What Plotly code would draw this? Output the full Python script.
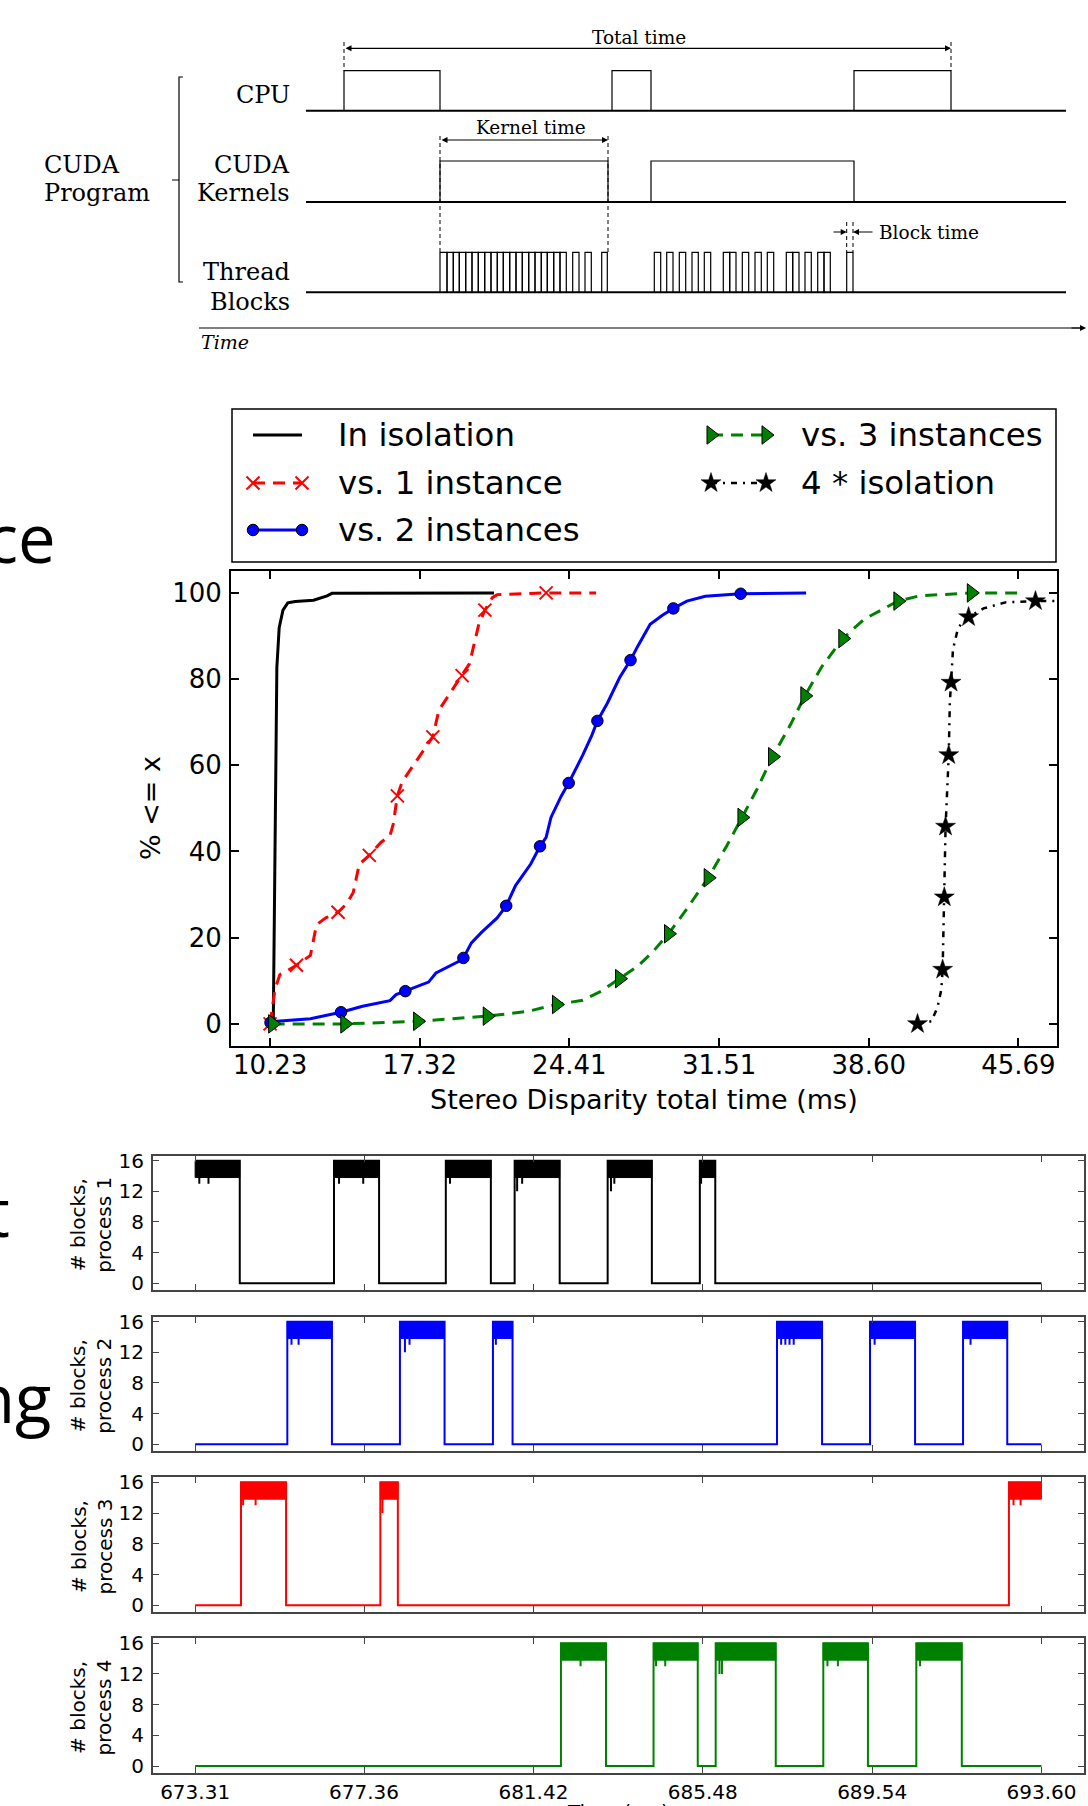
import plotly.graph_objects as go

W, H = 1088, 1806

# ======================= CDF panel data =======================
cdf_xticks = [10.23, 17.32, 24.41, 31.51, 38.60, 45.69]
cdf_xtick_text = ["10.23", "17.32", "24.41", "31.51", "38.60", "45.69"]
cdf_yticks = [0, 20, 40, 60, 80, 100]

iso_x = [10.38, 10.40, 10.46, 10.55, 10.66, 10.84, 11.07, 11.42, 12.29, 12.58, 12.93, 13.16, 20.84]
iso_y = [0, 12.2, 41.1, 82.7, 91.9, 96.0, 97.7, 98.0, 98.3, 98.7, 99.3, 99.9, 100]

vs1_x = [10.23, 10.46, 10.69, 11.48, 12.14, 12.43, 12.87, 13.45, 13.88, 14.17, 14.46, 14.93, 15.48,
         15.91, 16.06, 16.26, 16.49, 17.07, 17.65, 17.94, 18.23, 18.67, 19.33, 19.68, 20.12, 20.41,
         20.76, 20.99, 23.31, 25.68]
vs1_y = [0, 8.0, 11.4, 13.6, 15.9, 23.0, 24.6, 25.9, 28.0, 30.5, 37.1, 39.1, 42.1, 43.7, 46.2, 52.9,
         56.2, 60.3, 64.5, 66.6, 72.8, 76.1, 80.8, 83.6, 92.7, 96.0, 98.9, 99.6, 100, 100]
vs1_marks = [0, 3, 7, 11, 15, 19, 22, 25, 28]

vs2_x = [10.25, 10.55, 12.14, 12.87, 13.59, 14.61, 15.91, 16.20, 16.64, 17.74, 18.09, 19.25, 19.39,
         19.77, 20.26, 20.99, 21.42, 21.86, 22.58, 23.02, 23.31, 23.54, 24.03, 24.38, 25.05, 25.48,
         25.74, 26.21, 26.79, 27.31, 27.66, 28.24, 28.82, 29.34, 29.98, 30.85, 32.53, 35.63]
vs2_y = [0.3, 0.6, 1.2, 2.0, 2.7, 4.1, 5.4, 6.8, 7.6, 9.7, 11.8, 14.7, 15.3, 18.8, 21.3, 24.6, 27.4,
         32.1, 37.1, 41.2, 43.3, 47.9, 52.9, 55.9, 62.4, 67.0, 70.3, 74.4, 80.3, 84.4, 87.7, 92.7,
         94.8, 96.4, 98.1, 99.2, 99.8, 100]
vs2_marks = [0, 4, 8, 12, 16, 19, 23, 26, 29, 33, 36]

vs3_x = [10.35, 13.77, 17.22, 20.52, 22.44, 23.80, 25.05, 25.92, 26.79, 27.66, 28.38, 29.11, 29.98,
         30.99, 31.86, 32.59, 33.31, 34.04, 34.90, 35.57, 36.35, 37.37, 38.38, 39.98, 40.99, 43.46,
         45.63]
vs3_y = [0, 0, 0.6, 1.8, 2.9, 4.5, 5.5, 7.6, 10.5, 13.4, 16.8, 20.9, 26.7, 33.9, 41.2, 47.9, 54.5,
         62.0, 69.5, 76.1, 82.7, 89.4, 93.9, 98.1, 99.3, 100, 100]
vs3_marks = [0, 1, 2, 3, 5, 8, 11, 13, 15, 17, 19, 21, 23, 25]

x4_x = [40.91, 41.57, 41.86, 42.04, 42.10, 42.15, 42.18, 42.24, 42.39, 42.44, 42.50, 42.59, 42.81,
        42.96, 43.33, 44.04, 45.07, 46.50, 47.52]
x4_y = [0, 0.6, 3.9, 8.0, 12.6, 24.6, 29.4, 45.8, 62.4, 74.4, 79.2, 86.9, 91.4, 92.7, 94.4, 96.4,
        97.8, 98.1, 98.1]
x4_marks = [0, 4, 6, 7, 8, 10, 14, 17]

legend_labels = ["In isolation", "vs. 1 instance", "vs. 2 instances", "vs. 3 instances", "4 * isolation"]

# ======================= block-count panels data =======================
bt_ticks = [673.31, 677.36, 681.42, 685.48, 689.54, 693.60]
bt_tick_text = ["673.31", "677.36", "681.42", "685.48", "689.54", "693.60"]
bt_yticks = [0, 4, 8, 12, 16]
t_start, t_end = 673.31, 693.60
full_level, band_low = 16, 13.8

p1_on = [673.31, 676.64, 679.32, 680.97, 683.20, 685.41]
p1_off = [674.38, 677.72, 680.40, 682.05, 684.26, 685.78]
p1_dip_t = [673.41, 673.63, 676.76, 677.34, 679.42, 681.03, 681.15, 683.28, 683.36, 685.44]
p1_dip_v = [13, 13, 13, 13, 13, 12, 13, 12, 13, 13]

p2_on = [675.52, 678.22, 680.45, 687.26, 689.49, 691.72]
p2_off = [676.59, 679.29, 680.92, 688.34, 690.57, 692.78]
p2_dip_t = [675.62, 675.79, 678.34, 678.45, 680.52, 687.36, 687.46, 687.56, 687.66, 689.60, 691.90]
p2_dip_v = [13, 13, 12, 13, 13, 13, 13, 13, 13, 13, 13]

p3_on = [674.41, 677.75, 692.82]
p3_off = [675.49, 678.17, 693.60]
p3_dip_t = [674.46, 674.76, 677.80, 692.93, 693.10]
p3_dip_v = [13, 13, 12, 13, 13]

p4_on = [682.08, 684.30, 685.79, 688.37, 690.60]
p4_off = [683.16, 685.36, 687.23, 689.44, 691.69]
p4_dip_t = [682.55, 684.36, 684.58, 685.88, 685.94, 688.47, 688.72, 690.69]
p4_dip_v = [13, 13, 13, 12, 12, 13, 13, 13]

# ======================= schematic timing diagram (diagram units) =======================
cpu_busy = [(344, 440), (612, 651), (854, 951)]
kernel_busy = [(440, 608), (651, 854)]
block_busy = [(440.0, 447.0), (447.0, 453.3), (453.3, 459.3), (459.3, 465.7), (465.7, 472.0),
              (472.0, 478.3), (478.3, 484.7), (484.7, 491.0), (491.0, 497.3), (497.3, 503.3),
              (503.3, 509.7), (509.7, 516.0), (516.0, 522.3), (522.3, 528.7), (528.7, 535.0),
              (535.0, 541.3), (541.3, 547.3), (547.3, 553.7), (553.7, 560.0), (560.0, 566.3),
              (572.7, 579.0), (585.0, 591.3), (601.7, 607.3),
              (654.3, 660.7), (666.7, 673.0), (679.3, 685.7), (692.0, 698.3), (704.3, 710.7),
              (723.3, 729.7), (729.7, 736.0), (742.3, 748.7), (755.0, 761.3), (767.3, 773.7),
              (786.3, 792.7), (792.7, 799.0), (805.0, 811.3), (817.7, 824.0), (824.0, 830.3),
              (846.7, 853.0)]
lane_base = {"cpu": 110.7, "kern": 202.0, "blk": 292.3}
lane_top = {"cpu": 70.7, "kern": 161.0, "blk": 252.3}
lane_span = (306, 1066)

# ======================= build figure =======================
fig = go.Figure()
CAN = dict(xaxis="x6", yaxis="y6")
SERIF = "DejaVu Serif"
SANS = "DejaVu Sans"

def boxes_trace(intervals, base, top, width=1.2):
    xs, ys = [], []
    for a, b in intervals:
        xs += [a, a, b, b, None]
        ys += [base, top, top, base, None]
    return go.Scatter(x=xs, y=ys, mode="lines", line=dict(color="black", width=width),
                      hoverinfo="skip", showlegend=False, **CAN)

for lane, ints in (("cpu", cpu_busy), ("kern", kernel_busy), ("blk", block_busy)):
    fig.add_trace(boxes_trace(ints, lane_base[lane], lane_top[lane]))
    fig.add_trace(go.Scatter(x=list(lane_span), y=[lane_base[lane]] * 2, mode="lines",
                             line=dict(color="black", width=2), showlegend=False, **CAN))

def vdash(x, y0, y1):
    fig.add_trace(go.Scatter(x=[x, x], y=[y0, y1], mode="lines",
                             line=dict(color="black", width=1, dash="4px,3px"),
                             showlegend=False, **CAN))

vdash(cpu_busy[0][0], 42, lane_top["cpu"])
vdash(cpu_busy[-1][1], 42, lane_top["cpu"])
vdash(kernel_busy[0][0], 136, lane_top["blk"])
vdash(kernel_busy[0][1], 136, lane_top["blk"])
vdash(block_busy[-1][0], 222, lane_top["blk"])
vdash(block_busy[-1][1], 222, lane_top["blk"])

# time axis line
fig.add_trace(go.Scatter(x=[199, 1084], y=[328, 328], mode="lines",
                         line=dict(color="black", width=1.2), showlegend=False, **CAN))

# ---------------- CDF traces ----------------
def cdf(xs, ys, marks, color, width, dash, symbol, msize, mline_color, mline_w, mfill):
    fig.add_trace(go.Scatter(x=xs, y=ys, mode="lines", line=dict(color=color, width=width, dash=dash),
                             showlegend=False, xaxis="x", yaxis="y"))
    if marks:
        fig.add_trace(go.Scatter(x=[xs[i] for i in marks], y=[ys[i] for i in marks], mode="markers",
                                 marker=dict(symbol=symbol, size=msize, color=mfill,
                                             line=dict(color=mline_color, width=mline_w)),
                                 showlegend=False, xaxis="x", yaxis="y", cliponaxis=False))

RED, BLUE, GREEN = "#ff0000", "#0000ff", "#008000"
STY = {
    "iso": dict(color="black", width=3, dash="solid", symbol=None, msize=0, mline_color=None, mline_w=0, mfill=None),
    "vs1": dict(color=RED, width=3, dash="12px,8px", symbol="x-thin", msize=13, mline_color=RED, mline_w=2, mfill=RED),
    "vs2": dict(color=BLUE, width=3, dash="solid", symbol="circle", msize=11.5, mline_color="black", mline_w=1, mfill=BLUE),
    "vs3": dict(color=GREEN, width=3, dash="12px,8px", symbol="triangle-right", msize=16, mline_color="black", mline_w=1, mfill=GREEN),
    "x4": dict(color="black", width=2.5, dash="6px,6px,2px,6px", symbol="star", msize=15, mline_color="black", mline_w=0.5, mfill="black"),
}
cdf(iso_x, iso_y, [], **STY["iso"])
cdf(vs1_x, vs1_y, vs1_marks, **STY["vs1"])
cdf(vs2_x, vs2_y, vs2_marks, **STY["vs2"])
cdf(vs3_x, vs3_y, vs3_marks, **STY["vs3"])
cdf(x4_x, x4_y, x4_marks, **STY["x4"])

# ---------------- legend (drawn on canvas) ----------------
leg_rows = [435, 483, 530]
leg_cols = [(253, 302, 336), (711, 766, 799)]
leg_slots = [(0, 0), (0, 1), (0, 2), (1, 0), (1, 1)]
for key, label, (c, r) in zip(["iso", "vs1", "vs2", "vs3", "x4"], legend_labels, leg_slots):
    s = STY[key]
    x0, x1, xt = leg_cols[c]
    y = leg_rows[r]
    mode = "lines+markers" if s["symbol"] else "lines"
    fig.add_trace(go.Scatter(x=[x0, x1], y=[y, y], mode=mode,
                             line=dict(color=s["color"], width=s["width"], dash=s["dash"]),
                             marker=dict(symbol=s["symbol"] or "circle", size=s["msize"], color=s["mfill"] or s["color"],
                                         line=dict(color=s["mline_color"] or s["color"], width=s["mline_w"])),
                             showlegend=False, **CAN))
    fig.add_annotation(x=xt, y=y, xref="x6", yref="y6", text=label, showarrow=False,
                       xanchor="left", yanchor="middle", font=dict(family=SANS, size=32.4, color="black"))

# ---------------- block-count panels ----------------
procs = [(p1_on, p1_off, p1_dip_t, p1_dip_v, "black"),
         (p2_on, p2_off, p2_dip_t, p2_dip_v, BLUE),
         (p3_on, p3_off, p3_dip_t, p3_dip_v, RED),
         (p4_on, p4_off, p4_dip_t, p4_dip_v, GREEN)]
for k, (on, off, dt, dv, col) in enumerate(procs):
    xa, ya = f"x{k + 2}", f"y{k + 2}"
    xs, ys = [], []
    if on[0] > t_start:
        xs.append(t_start); ys.append(0)
    for a, b in zip(on, off):
        if a > t_start:
            xs.append(a); ys.append(0)
        xs += [a, b]; ys += [full_level, full_level]
        if b < t_end:
            xs.append(b); ys.append(0)
    if off[-1] < t_end:
        xs.append(t_end); ys.append(0)
    fig.add_trace(go.Scatter(x=xs, y=ys, mode="lines", line=dict(color=col, width=2),
                             showlegend=False, xaxis=xa, yaxis=ya))
    bx, by = [], []
    for a, b in zip(on, off):
        bx += [a, b, b, a, a, None]
        by += [full_level, full_level, band_low, band_low, full_level, None]
    fig.add_trace(go.Scatter(x=bx, y=by, mode="lines", fill="toself", fillcolor=col,
                             line=dict(color=col, width=1), showlegend=False, xaxis=xa, yaxis=ya))
    sx, sy = [], []
    for t, v in zip(dt, dv):
        sx += [t, t, None]
        sy += [band_low + 1, v, None]
    fig.add_trace(go.Scatter(x=sx, y=sy, mode="lines", line=dict(color=col, width=2),
                             showlegend=False, xaxis=xa, yaxis=ya))

# ======================= layout =======================
def dom(y0, y1):
    return [1 - y1 / H, 1 - y0 / H]

layout = dict(
    width=W, height=H, margin=dict(l=0, r=0, t=0, b=0, autoexpand=False),
    paper_bgcolor="white", plot_bgcolor="rgba(0,0,0,0)",
    font=dict(family=SANS, color="black"), showlegend=False,
)
ax_common = dict(showgrid=False, zeroline=False, ticks="inside", mirror="ticks", showline=True)
layout["xaxis"] = dict(domain=[231 / W, 1057 / W], range=[8.377, 47.52], tickvals=cdf_xticks,
                       ticktext=cdf_xtick_text, ticklen=8, tickwidth=1.5, tickcolor="black",
                       linecolor="black", linewidth=2, tickfont=dict(size=26),
                       ticklabelstandoff=-5, anchor="y", **ax_common)
layout["yaxis"] = dict(domain=dom(570.7, 1045.7), range=[-5.06, 105.15], tickvals=cdf_yticks,
                       ticklen=8, tickwidth=1.5, tickcolor="black", linecolor="black", linewidth=2,
                       tickfont=dict(size=26), ticklabelstandoff=2, anchor="x", **ax_common)
panel_y = [(1155.7, 1289.7), (1316.7, 1450.7), (1477.3, 1611.7), (1638.3, 1772.5)]
for k, (y0, y1) in enumerate(panel_y):
    n = k + 2
    layout[f"xaxis{n}"] = dict(domain=[153 / W, 1084 / W], range=[672.30, 694.62], tickvals=bt_ticks,
                               ticktext=bt_tick_text, showticklabels=(n == 5), ticklen=6, tickwidth=1.2,
                               tickcolor="#444", linecolor="#444", linewidth=2, tickfont=dict(size=20),
                               ticklabelstandoff=0, anchor=f"y{n}", **ax_common)
    layout[f"yaxis{n}"] = dict(domain=dom(y0, y1), range=[-0.84, 16.65], tickvals=bt_yticks,
                               ticklen=6, tickwidth=1.2, tickcolor="#444", linecolor="#444", linewidth=2,
                               tickfont=dict(size=20), ticklabelstandoff=3, anchor=f"x{n}", **ax_common)
layout["xaxis6"] = dict(domain=[0, 1], range=[0, W], visible=False, anchor="y6", fixedrange=True)
layout["yaxis6"] = dict(domain=[0, 1], range=[H, 0], visible=False, anchor="x6", fixedrange=True)
fig.update_layout(**layout)

def txt(x, y, s, size, family=SANS, xanchor="center", yanchor="middle", angle=0, **kw):
    fig.add_annotation(x=x, y=y, xref="x6", yref="y6", text=s, showarrow=False, xanchor=xanchor,
                       yanchor=yanchor, textangle=angle, font=dict(family=family, size=size, color="black"), **kw)

# schematic text
txt(639, 37, "Total time", 18.5, SERIF)
txt(531, 127, "Kernel time", 18.5, SERIF)
txt(877, 232, "Block time", 18.5, SERIF, xanchor="left")
txt(292, 95, "CPU", 24, SERIF, xanchor="right")
txt(292, 165, "CUDA", 24, SERIF, xanchor="right")
txt(292, 193, "Kernels", 24, SERIF, xanchor="right")
txt(292, 272, "Thread", 24, SERIF, xanchor="right")
txt(292, 302, "Blocks", 24, SERIF, xanchor="right")
txt(42, 165, "CUDA", 24, SERIF, xanchor="left")
txt(42, 193, "Program", 24, SERIF, xanchor="left")
txt(199, 342, "<i>Time</i>", 19, SERIF, xanchor="left")

def arrow(x_head, y, x_tail, both=False):
    fig.add_annotation(x=x_head, y=y, ax=x_tail, ay=y, xref="x6", yref="y6", axref="x6", ayref="y6",
                       text="", showarrow=True, arrowhead=2, arrowsize=1, arrowwidth=1.2,
                       arrowcolor="black", arrowside="end+start" if both else "end",
                       startarrowhead=2, startarrowsize=1)

arrow(cpu_busy[-1][1], 48.3, cpu_busy[0][0], both=True)
arrow(kernel_busy[0][1], 140, kernel_busy[0][0], both=True)
arrow(block_busy[-1][0], 232, 832)
arrow(block_busy[-1][1], 232, 874)
arrow(1086, 328, 1070)

# brace
fig.add_shape(type="path", xref="x6", yref="y6",
              path="M 183 77 L 179 77 L 179 282 L 183 282 M 179 180 L 172 180",
              line=dict(color="black", width=1.2))
# legend frame
fig.add_shape(type="rect", xref="x6", yref="y6", x0=232, x1=1056, y0=409, y1=562,
              line=dict(color="black", width=1.5))

# CDF titles
txt(644, 1099, "Stereo Disparity total time (ms)", 27)
txt(150, 808, "% &lt;= x", 27, angle=-90)

# block panels titles
for k, (y0, y1) in enumerate(panel_y):
    txt(91, (y0 + y1) / 2 + 2, f"# blocks,<br>process {k + 1}", 20, angle=-90)
txt(618, 1798, "Time (ms)", 20, yanchor="top")

# slide text fragments behind the chart
txt(58, 537, "ce", 67, "Open Sans", xanchor="right")
txt(12, 1211, "t", 67, "Open Sans", xanchor="right")
txt(53, 1397, "ng", 67, "Open Sans", xanchor="right")

fig.write_html("out.html", config={"displayModeBar": False},
               post_script="document.body.style.margin='0px';document.body.style.overflow='hidden';"
                           "document.documentElement.style.overflow='hidden';")
